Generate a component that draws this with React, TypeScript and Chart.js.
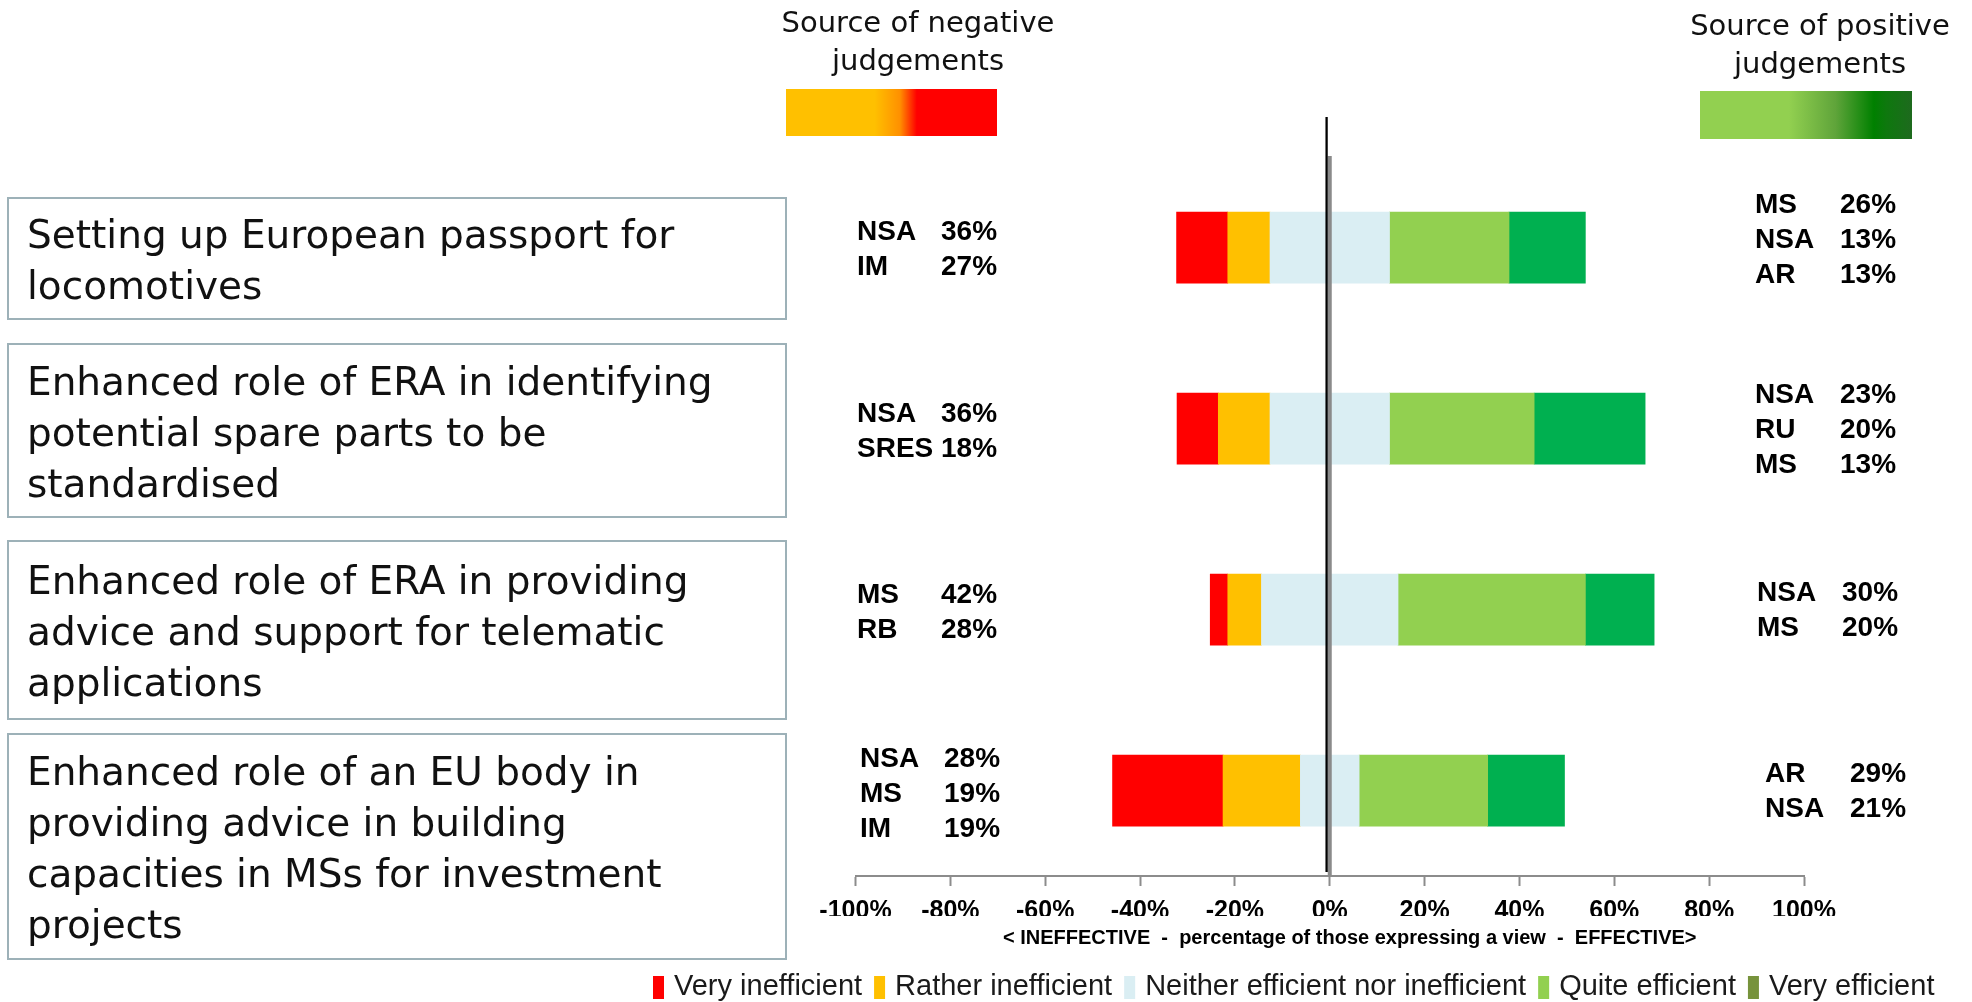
import React, { useEffect, useRef } from "react";
import { Chart, registerables } from "chart.js";

Chart.register(...registerables);

// ---------- data ----------
const categories = [
  "Setting up European passport for locomotives",
  "Enhanced role of ERA in identifying potential spare parts to be standardised",
  "Enhanced role of ERA in providing advice and support for telematic applications",
  "Enhanced role of an EU body in providing advice in building capacities in MSs for investment projects",
];
const categoryLines = [
  ["Setting up European passport for", "locomotives"],
  ["Enhanced role of ERA in identifying", "potential spare parts to be", "standardised"],
  ["Enhanced role of ERA in providing", "advice and support for telematic", "applications"],
  ["Enhanced role of an EU body in", "providing advice in building", "capacities in MSs for investment", "projects"],
];

const seriesLabels = [
  "Very inefficient",
  "Rather inefficient",
  "Neither efficient nor inefficient",
  "Quite efficient",
  "Very efficient",
];
const veryInefficient = [10.8, 8.7, 3.7, 23.3];
const ratherInefficient = [8.9, 10.9, 7.1, 16.3];
const neitherNor = [25.2, 25.2, 28.8, 12.4];
const quiteEfficient = [25.2, 30.5, 39.5, 27.1];
const veryEfficient = [16.1, 23.4, 14.5, 16.2];

const negSourceLabels = [["NSA", "IM"], ["NSA", "SRES"], ["MS", "RB"], ["NSA", "MS", "IM"]];
const negSourceShares = [[36, 27], [36, 18], [42, 28], [28, 19, 19]];
const posSourceLabels = [["MS", "NSA", "AR"], ["NSA", "RU", "MS"], ["NSA", "MS"], ["AR", "NSA"]];
const posSourceShares = [[26, 13, 13], [23, 20, 13], [30, 20], [29, 21]];

const xTickStep = 20;
const axisTitle = "< INEFFECTIVE  -  percentage of those expressing a view  -  EFFECTIVE>";

// ---------- styles / layout ----------
const barColors = ["#FF0000", "#FFC000", "#DAEEF3", "#92D050", "#00B050"];
const legendColors = ["#FF0000", "#FFC000", "#DAEEF3", "#92D050", "#77933C"];
const ARIAL = "'Liberation Sans', Arial, sans-serif";
const BOXFONT = "'DejaVu Sans', Verdana, sans-serif";

const boxGeom = [
  { top: 197, height: 123 },
  { top: 343, height: 175 },
  { top: 540, height: 180 },
  { top: 733, height: 227 },
];
const negShift = [{ dx: 0, dy: 2 }, { dx: 0, dy: 3 }, { dx: 0, dy: 3 }, { dx: 3, dy: 4 }];
const posShift = [{ dx: 0, dy: -7 }, { dx: 0, dy: 2 }, { dx: 2, dy: 1 }, { dx: 10, dy: 1 }];

const overlayPlugin = {
  id: "overlay",
  afterDatasetsDraw(chart: any) {
    const { ctx, chartArea, scales } = chart;
    const x = scales.x;
    const y = scales.y;
    const x0 = x.getPixelForValue(0);
    ctx.save();
    // zero lines
    ctx.fillStyle = "#8a8a8a";
    ctx.fillRect(x0 - 2, chartArea.top, 4, chartArea.bottom - chartArea.top);
    ctx.fillStyle = "#000000";
    ctx.fillRect(x0 - 4.3, 117, 2.3, 872 - 117);

    // source annotations
    ctx.font = `bold 28px ${ARIAL}`;
    ctx.fillStyle = "#000";
    ctx.textBaseline = "middle";
    ctx.textAlign = "left";
    const lh = 35;
    categories.forEach((_, i) => {
      const yc = y.getPixelForValue(i);
      const nl = negSourceLabels[i].length;
      negSourceLabels[i].forEach((lab, k) => {
        const yy = yc + negShift[i].dy + (k - (nl - 1) / 2) * lh;
        ctx.fillText(lab, 857 + negShift[i].dx, yy);
        ctx.fillText(negSourceShares[i][k] + "%", 941 + negShift[i].dx, yy);
      });
      const np = posSourceLabels[i].length;
      posSourceLabels[i].forEach((lab, k) => {
        const yy = yc + posShift[i].dy + (k - (np - 1) / 2) * lh;
        ctx.fillText(lab, 1755 + posShift[i].dx, yy);
        ctx.fillText(posSourceShares[i][k] + "%", 1840 + posShift[i].dx, yy);
      });
    });

    // axis title
    ctx.font = `bold 20px ${ARIAL}`;
    ctx.textAlign = "center";
    ctx.fillText(axisTitle, x0 + 20, 938);

    // legend
    ctx.font = `29px ${ARIAL}`;
    ctx.textAlign = "left";
    let lx = 653;
    const ly = 987;
    seriesLabels.forEach((lab, i) => {
      ctx.fillStyle = legendColors[i];
      ctx.fillRect(lx, ly - 11, 11, 23);
      lx += 11 + 10;
      ctx.fillStyle = "#1a1a1a";
      ctx.fillText(lab, lx, ly);
      lx += ctx.measureText(lab).width + 12;
    });
    ctx.restore();
  },
};

export default function App() {
  const canvasRef = useRef<HTMLCanvasElement | null>(null);

  useEffect(() => {
    const pts = (arr: number[], sign: number, half = false) =>
      arr.map((v, i) => ({ x: sign * (half ? v / 2 : v), y: i }));
    const datasets = [
      { label: seriesLabels[2], data: pts(neitherNor, -1, true), backgroundColor: barColors[2] },
      { label: seriesLabels[1], data: pts(ratherInefficient, -1), backgroundColor: barColors[1] },
      { label: seriesLabels[0], data: pts(veryInefficient, -1), backgroundColor: barColors[0] },
      { label: seriesLabels[2], data: pts(neitherNor, 1, true), backgroundColor: barColors[2] },
      { label: seriesLabels[3], data: pts(quiteEfficient, 1), backgroundColor: barColors[3] },
      { label: seriesLabels[4], data: pts(veryEfficient, 1), backgroundColor: barColors[4] },
    ].map((d) => ({ ...d, barThickness: 71, borderWidth: 0 }));

    const chart = new Chart(canvasRef.current as HTMLCanvasElement, {
      type: "bar",
      data: { datasets } as any,
      plugins: [overlayPlugin],
      options: {
        indexAxis: "y",
        responsive: false,
        animation: false,
        events: [],
        layout: { padding: { left: 855.5, right: 1972 - 1804, top: 156, bottom: 86 } },
        plugins: { legend: { display: false }, tooltip: { enabled: false }, title: { display: false } },
        scales: {
          x: {
            type: "linear",
            min: -100,
            max: 100,
            stacked: true,
            afterFit: (s: any) => {
              s.height = 40;
            },
            border: { display: true, color: "#8c8c8c", width: 2 },
            grid: {
              drawOnChartArea: false,
              drawTicks: true,
              tickLength: 10,
              tickColor: "#8c8c8c",
              tickWidth: 2,
              color: "#8c8c8c",
            },
            ticks: {
              stepSize: xTickStep,
              autoSkip: false,
              maxRotation: 0,
              padding: 10,
              color: "#000",
              font: { family: ARIAL, size: 25, weight: "bold" },
              callback: (v: any) => v + "%",
            },
          },
          y: {
            type: "linear",
            min: -0.506,
            max: 3.472,
            reverse: true,
            stacked: true,
            offset: false,
            grid: { offset: false, display: false },
            display: false,
          },
        },
      } as any,
    });
    return () => chart.destroy();
  }, []);

  return (
    <div
      style={{
        position: "absolute",
        left: 0,
        top: 0,
        width: 1972,
        height: 1002,
        overflow: "hidden",
        background: "#ffffff",
      }}
    >
      <canvas
        ref={canvasRef}
        width={1972}
        height={1002}
        style={{ position: "absolute", left: 0, top: 0, width: 1972, height: 1002 }}
      />
      {categoryLines.map((lines, i) => (
        <div
          key={i}
          style={{
            position: "absolute",
            left: 7,
            top: boxGeom[i].top,
            width: 780,
            height: boxGeom[i].height,
            boxSizing: "border-box",
            border: "2px solid #9db1b8",
            display: "flex",
            flexDirection: "column",
            justifyContent: "center",
            paddingLeft: 18,
            paddingTop: 3,
            fontFamily: BOXFONT,
            fontSize: 39,
            lineHeight: "51px",
            color: "#111",
            whiteSpace: "nowrap",
          }}
        >
          {lines.map((l, k) => (
            <div key={k}>{l}</div>
          ))}
        </div>
      ))}
      <div
        style={{
          position: "absolute",
          left: 718,
          top: 3,
          width: 400,
          textAlign: "center",
          fontFamily: BOXFONT,
          fontSize: 29,
          lineHeight: "38px",
          color: "#111",
        }}
      >
        Source of negative
        <br />
        judgements
      </div>
      <div
        style={{
          position: "absolute",
          left: 786,
          top: 89,
          width: 211,
          height: 47,
          background:
            "linear-gradient(to right, #FFC000 0%, #FFC000 42%, #FF9000 54%, #FF0000 62%, #FF0000 100%)",
        }}
      />
      <div
        style={{
          position: "absolute",
          left: 1620,
          top: 6,
          width: 400,
          textAlign: "center",
          fontFamily: BOXFONT,
          fontSize: 29,
          lineHeight: "38px",
          color: "#111",
        }}
      >
        Source of positive
        <br />
        judgements
      </div>
      <div
        style={{
          position: "absolute",
          left: 1700,
          top: 91,
          width: 212,
          height: 48,
          background:
            "linear-gradient(to right, #92D050 0%, #92D050 42%, #5FA43A 64%, #008000 82%, #0E780E 88%, #1E6A1E 100%)",
        }}
      />
    </div>
  );
}
